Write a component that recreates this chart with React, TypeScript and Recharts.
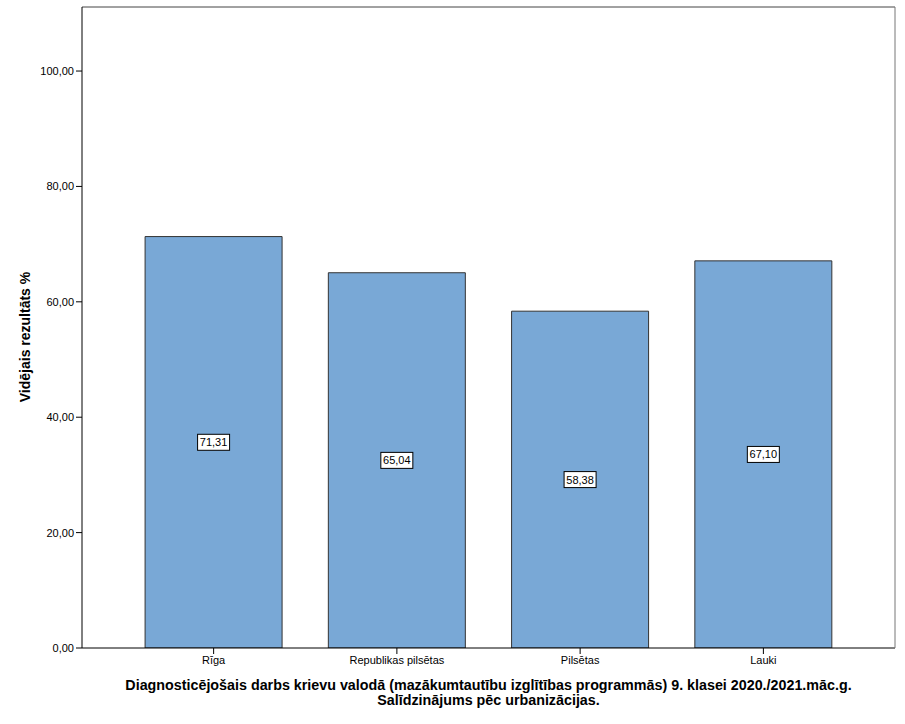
import React from 'react';
import { BarChart, Bar, XAxis, YAxis, LabelList, Label } from 'recharts';

const categories = ['Rīga', 'Republikas pilsētas', 'Pilsētas', 'Lauki'];
const values = [71.31, 65.04, 58.38, 67.1];
const yTicks = [0, 20, 40, 60, 80, 100];
const titleLines = [
  'Diagnosticējošais darbs krievu valodā (mazākumtautību izglītības programmās) 9. klasei 2020./2021.māc.g.',
  'Salīdzinājums pēc urbanizācijas.',
];
const yTitle = 'Vidējais rezultāts %';

const data = categories.map((c, i) => ({ name: c, value: values[i] }));
const FONT = '"Liberation Sans", Arial, sans-serif';
const fmt = (v: number) => v.toFixed(2).replace('.', ',');

const BoxLabel = (props: any) => {
  const { x, y, width, height, value } = props;
  const cx = x + width / 2;
  const cy = y + height / 2;
  const text = fmt(value);
  const w = 32;
  const h = 16;
  return (
    <g>
      <rect x={cx - w / 2} y={cy - h / 2} width={w} height={h} fill="#fff" stroke="#000" strokeWidth={1} />
      <text x={cx} y={cy + 4} textAnchor="middle" fontSize={11} fontFamily={FONT} fill="#000">{text}</text>
    </g>
  );
};

const TitleContent = (props: any) => {
  const { viewBox } = props;
  const cx = viewBox.x + viewBox.width / 2;
  return (
    <g>
      <text x={cx} y={690} textAnchor="middle" fontSize={14.3} fontWeight="bold" fontFamily={FONT} fill="#000">{titleLines[0]}</text>
      <text x={cx} y={705} textAnchor="middle" fontSize={14.3} fontWeight="bold" fontFamily={FONT} fill="#000">{titleLines[1]}</text>
    </g>
  );
};

const YTitleContent = () => (
  <text x={30} y={337} transform="rotate(-90 30 337)" textAnchor="middle" fontSize={14} fontWeight="bold" fontFamily={FONT} fill="#000">{yTitle}</text>
);

export default function App() {
  return (
    <div style={{ position: 'absolute', left: 0, top: 0, width: 905, height: 724, background: '#fff' }}>
      <BarChart
        width={905}
        height={724}
        data={data}
        margin={{ top: 6, right: 9, bottom: 0, left: 0 }}
        barCategoryGap="12.6%"
      >
        <XAxis
          dataKey="name"
          height={76}
          padding={{ left: 40, right: 40 }}
          tick={{ fontSize: 11, fill: '#000', fontFamily: FONT }}
          tickLine={{ stroke: '#000' }}
          tickSize={6}
          axisLine={{ stroke: '#000' }}
          interval={0}
        >
          <Label content={<TitleContent />} />
        </XAxis>
        <XAxis xAxisId="top" orientation="top" dataKey="name" height={1} tick={false} tickLine={false} axisLine={{ stroke: '#444' }} padding={{ left: 40, right: 40 }} />
        <YAxis
          width={82}
          domain={[0, 111.1]}
          ticks={yTicks}
          tickFormatter={fmt}
          tick={{ fontSize: 11, fill: '#000', fontFamily: FONT }}
          tickLine={{ stroke: '#000' }}
          tickSize={6}
          axisLine={{ stroke: '#000' }}
          allowDataOverflow
        >
          <Label content={<YTitleContent />} />
        </YAxis>
        <YAxis yAxisId="right" orientation="right" width={1} tick={false} tickLine={false} axisLine={{ stroke: '#777' }} domain={[0, 111.1]} />
        <Bar dataKey="value" fill="#79A8D6" stroke="#333" strokeWidth={1} isAnimationActive={false}>
          <LabelList dataKey="value" content={<BoxLabel />} />
        </Bar>
      </BarChart>
    </div>
  );
}
